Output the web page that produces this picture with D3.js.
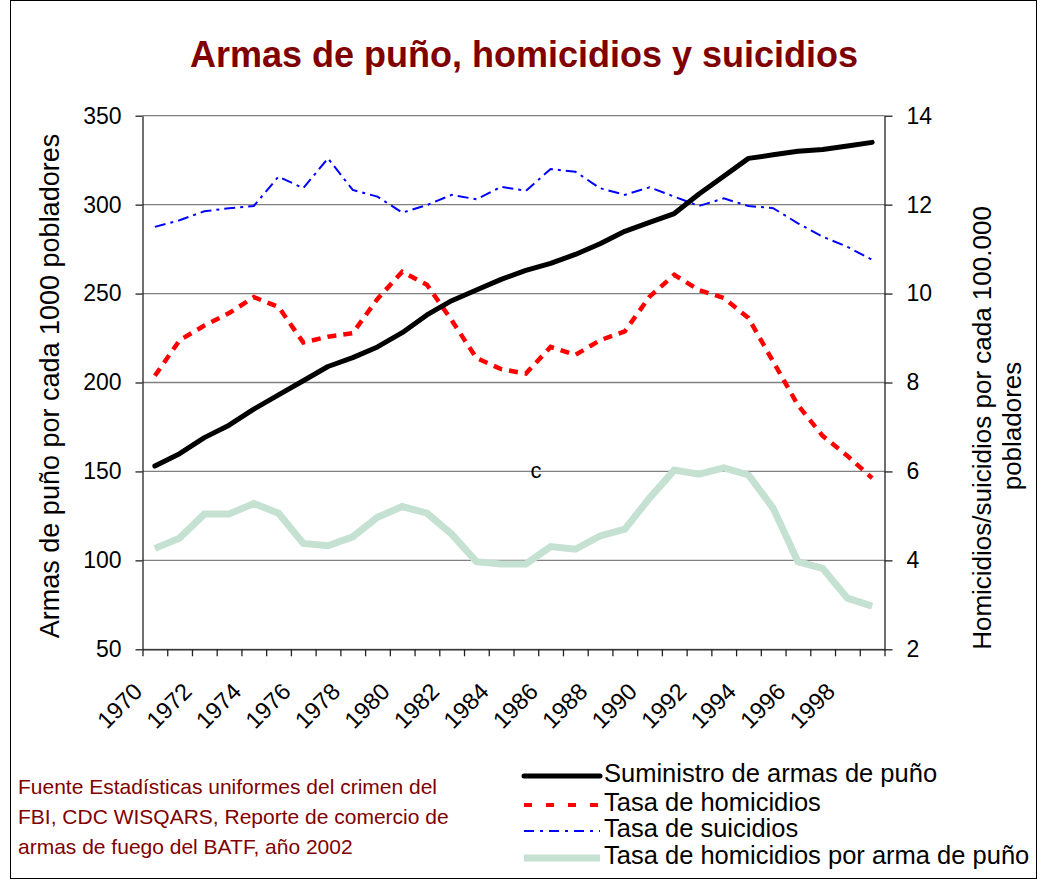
<!DOCTYPE html>
<html>
<head>
<meta charset="utf-8">
<script src="https://cdn.jsdelivr.net/npm/d3@7"></script>
<style>
body { margin: 0; background: #fff; }
text { font-family: "Liberation Sans", Arial, sans-serif; }
.grid line { stroke: #808080; stroke-width: 1.3; }
.axis path, .axis line { stroke: #222; stroke-width: 1.3; }
</style>
</head>
<body>
<div id="chart"></div>
<script>
// data
var years = d3.range(1970, 2000);
var yearLabels = ["1970","1972","1974","1976","1978","1980","1982","1984","1986","1988","1990","1992","1994","1996","1998"];
var leftTicks = [50, 100, 150, 200, 250, 300, 350];
var rightTicks = [2, 4, 6, 8, 10, 12, 14];

// armas de puño por cada 1000 pobladores (eje izquierdo)
var supply = [153,160,169,176,185,193,201,209,214,220,228,238,246,252,258,263,267,272,278,285,290,295,306,316,326,328,330,331,333,335];
// tasas por 100.000 (eje derecho)
var homicide = [8.15,8.95,9.28,9.56,9.92,9.7,8.9,9.03,9.11,9.88,10.49,10.2,9.4,8.55,8.3,8.2,8.8,8.62,8.95,9.15,9.93,10.42,10.08,9.9,9.45,8.47,7.49,6.8,6.35,5.85];
var suicide = [11.5,11.65,11.85,11.92,11.97,12.63,12.37,13.04,12.33,12.18,11.82,11.99,12.22,12.12,12.4,12.31,12.8,12.74,12.37,12.22,12.39,12.18,11.97,12.14,11.97,11.92,11.58,11.28,11.05,10.76];
var handgunHomicide = [4.27,4.5,5.04,5.04,5.28,5.06,4.38,4.33,4.53,4.97,5.21,5.06,4.59,3.97,3.92,3.92,4.31,4.25,4.55,4.7,5.4,6.03,5.94,6.08,5.92,5.17,3.97,3.82,3.15,2.97];

var seriesNames = ["Suministro de armas de puño", "Tasa de homicidios", "Tasa de suicidios", "Tasa de homicidios por arma de puño"];

var W = 1051, H = 880;
var plotLeft = 142.5, plotRight = 884.5, plotTop = 115.7, plotBottom = 649.3;

var svg = d3.select("#chart").append("svg")
  .attr("width", W)
  .attr("height", H);

// outer frame
svg.append("rect")
  .attr("x", 10.5).attr("y", 0.5)
  .attr("width", 1026).attr("height", 878)
  .attr("fill", "none")
  .attr("stroke", "#000")
  .attr("stroke-width", 1);

var x = d3.scaleLinear().domain([1970, 2000]).range([plotLeft, plotRight]);
var yL = d3.scaleLinear().domain([50, 350]).range([plotBottom, plotTop]);
var yR = d3.scaleLinear().domain([2, 14]).range([plotBottom, plotTop]);

// gridlines
svg.append("g").attr("class", "grid")
  .selectAll("line")
  .data(leftTicks)
  .enter().append("line")
  .attr("x1", plotLeft).attr("x2", plotRight)
  .attr("y1", function(d){ return yL(d); })
  .attr("y2", function(d){ return yL(d); });

// axes
var xAxis = d3.axisBottom(x)
  .tickValues(d3.range(1970, 2001))
  .tickFormat("")
  .tickSize(7)
  .tickSizeOuter(0);

svg.append("g")
  .attr("class", "axis")
  .attr("transform", "translate(0," + plotBottom + ")")
  .call(xAxis);

var yAxisL = d3.axisLeft(yL).tickValues(leftTicks).tickSize(7).tickSizeOuter(0).tickPadding(14);
svg.append("g")
  .attr("class", "axis")
  .attr("transform", "translate(" + plotLeft + ",0)")
  .call(yAxisL);

var yAxisR = d3.axisRight(yR).tickValues(rightTicks).tickSize(8).tickSizeOuter(0).tickPadding(14);
svg.append("g")
  .attr("class", "axis")
  .attr("transform", "translate(" + plotRight + ",0)")
  .call(yAxisR);

svg.selectAll(".axis text")
  .style("font-family", "Liberation Sans, Arial, sans-serif")
  .style("font-size", "23px")
  .attr("fill", "#000");

// rotated year labels
svg.append("g")
  .selectAll("text")
  .data(yearLabels)
  .enter().append("text")
  .attr("transform", function(d){
    var cx = x(+d + 0.5) - 11;
    return "translate(" + cx + ",693) rotate(-45)";
  })
  .attr("text-anchor", "end")
  .style("font-size", "23.5px")
  .text(function(d){ return d; });

// lines
var lineL = d3.line()
  .x(function(d, i){ return x(years[i] + 0.5); })
  .y(function(d){ return yL(d); });
var lineR = d3.line()
  .x(function(d, i){ return x(years[i] + 0.5); })
  .y(function(d){ return yR(d); });

svg.append("path")
  .datum(handgunHomicide)
  .attr("d", lineR)
  .attr("fill", "none")
  .attr("stroke", "#c4e1d2")
  .attr("stroke-width", 7);

svg.append("path")
  .datum(suicide)
  .attr("d", lineR)
  .attr("fill", "none")
  .attr("stroke", "#0000ff")
  .attr("stroke-width", 2)
  .attr("stroke-dasharray", "11,5,3,5");

svg.append("path")
  .datum(homicide)
  .attr("d", lineR)
  .attr("fill", "none")
  .attr("stroke", "#ff0000")
  .attr("stroke-width", 4.5)
  .attr("stroke-dasharray", "9,7");

svg.append("path")
  .datum(supply)
  .attr("d", lineL)
  .attr("fill", "none")
  .attr("stroke", "#000")
  .attr("stroke-width", 5)
  .attr("stroke-linecap", "round")
  .attr("stroke-linejoin", "round");

// stray label inside the plot
svg.append("text")
  .attr("x", 536).attr("y", 478)
  .attr("text-anchor", "middle")
  .style("font-size", "22px")
  .text("c");

// title
svg.append("text")
  .attr("x", 524).attr("y", 67)
  .attr("text-anchor", "middle")
  .style("font-size", "36px")
  .style("font-weight", "bold")
  .attr("fill", "#800000")
  .text("Armas de puño, homicidios y suicidios");

// axis titles
svg.append("text")
  .attr("transform", "translate(59,386) rotate(-90)")
  .attr("text-anchor", "middle")
  .style("font-size", "27px")
  .text("Armas de puño por cada 1000 pobladores");

svg.append("text")
  .attr("transform", "translate(991,428) rotate(-90)")
  .attr("text-anchor", "middle")
  .style("font-size", "26px")
  .text("Homicidios/suicidios por cada 100.000");

svg.append("text")
  .attr("transform", "translate(1021,426) rotate(-90)")
  .attr("text-anchor", "middle")
  .style("font-size", "26px")
  .text("pobladores");

// source note
var source = ["Fuente Estadísticas uniformes del crimen del", "FBI, CDC WISQARS, Reporte de comercio de", "armas de fuego del BATF, año 2002"];
svg.append("g")
  .selectAll("text")
  .data(source)
  .enter().append("text")
  .attr("x", 18)
  .attr("y", function(d, i){ return 794 + i * 30; })
  .style("font-size", "21px")
  .attr("fill", "#800000")
  .text(function(d){ return d; });

// legend
var legendStyles = [
  {stroke: "#000", width: 5, dash: null, cap: "round"},
  {stroke: "#ff0000", width: 4, dash: "8,14", cap: "butt"},
  {stroke: "#0000ff", width: 2, dash: "10,6,3,6", cap: "butt"},
  {stroke: "#c4e1d2", width: 7, dash: null, cap: "butt"}
];
var legendY = [776, 805, 831, 858];

var legend = svg.selectAll(".legend")
  .data(seriesNames)
  .enter().append("g")
  .attr("class", "legend")
  .attr("transform", function(d, i){ return "translate(0," + legendY[i] + ")"; });

legend.append("line")
  .attr("x1", 524).attr("x2", 600)
  .attr("y1", 0).attr("y2", 0)
  .attr("stroke", function(d, i){ return legendStyles[i].stroke; })
  .attr("stroke-width", function(d, i){ return legendStyles[i].width; })
  .attr("stroke-dasharray", function(d, i){ return legendStyles[i].dash; })
  .attr("stroke-linecap", function(d, i){ return legendStyles[i].cap; });

legend.append("text")
  .attr("x", 604)
  .attr("y", 6)
  .style("font-size", "25.5px")
  .text(function(d){ return d; });
</script>
</body>
</html>
